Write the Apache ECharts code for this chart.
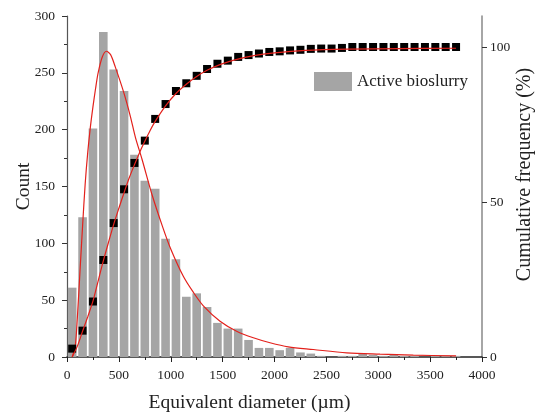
<!DOCTYPE html>
<html>
<head>
<meta charset="utf-8">
<script src="https://cdn.jsdelivr.net/npm/echarts@6/dist/echarts.min.js"></script>
<style>html,body{margin:0;padding:0;background:#fff;}#c{width:539px;height:414px;}</style>
</head>
<body>
<div id="c"></div>
<script>
// Bin centres (µm)
const binCenters = [50,150,250,350,450,550,650,750,850,950,1050,1150,1250,1350,1450,1550,1650,1750,1850,1950,2050,2150,2250,2350,2450,2550,2650,2750,2850,2950,3050,3150,3250,3350,3450,3550,3650,3750];
// Histogram counts
const counts = [61,123,201,286,253,234,178,155,148,104,86,53,56,44,30,25,25,15,8,8,6,8,4,3,1,0,1,1,3,2,1,2,1,1,0,1,1,1];
// Cumulative frequency (%)
const cumulative = [2.7,8.5,17.9,31.3,43.2,54.1,62.6,69.8,76.8,81.6,85.8,88.3,90.7,92.9,94.6,95.6,96.8,97.4,97.9,98.4,98.6,98.9,99.1,99.4,99.5,99.5,99.7,100,100,100,100,100,100,100,100,100,100,100];
// Fitted distribution curve
const pdfFitX = [50,80,100,125,150,175,200,225,250,275,300,340,380,420,466,546,610,660,723,819,916,1000,1121,1217,1314,1475,1635,1796,1957,2133,2374,2696,3017,3338,3750];
const pdfFitY = [0,10,35,75,115,152,180,202,220,236,250,264,269,266,255,233,212,193,174,143,116,95,71,57,45,31.5,22.7,16.9,12.5,8.9,6.6,3.7,2.5,1.6,1.0];
// Fitted cumulative curve
const cumFitX = [50,100,150,200,250,300,350,400,450,500,550,600,650,700,750,800,850,950,1050,1150,1250,1350,1450,1600,1800,2000,2300,2700,3200,3750];
const cumFitY = [0,3.5,8.3,13,18,24.5,31,37,42.8,48,53,57.8,62,66,69.6,73,76,81,85,88,90.5,92.5,94,95.7,97.2,98.1,98.9,99.3,99.5,99.6];
const xTicks = [0,500,1000,1500,2000,2500,3000,3500,4000];
const rightTicks = [0,50,100];
const seriesName = 'Active bioslurry';

const serif = 'Liberation Serif';
const zip = (a,b) => a.map((v,i)=>[v,b[i]]);
const chart = echarts.init(document.getElementById('c'), null, {renderer:'canvas'});
chart.setOption({
  animation:false,
  backgroundColor:'#fff',
  grid:{left:67,right:57,top:16,bottom:57,containLabel:false,outerBoundsMode:'none'},
  legend:{
    show:true, data:[{name:seriesName,icon:'rect'}], left:314, top:72, padding:0, itemWidth:38, itemHeight:19,
    textStyle:{fontFamily:serif,fontSize:17,color:'#222'}, selectedMode:false
  },
  xAxis:{
    type:'value', min:0, max:4000, interval:500,
    name:'Equivalent diameter (µm)', nameLocation:'middle', nameGap:36,
    nameTextStyle:{fontFamily:serif,fontSize:19.5,color:'#222',padding:[0,50,0,0]},
    axisLine:{show:true,onZero:false,lineStyle:{color:'#222',width:1.5}},
    axisTick:{show:true,inside:false,length:5,lineStyle:{color:'#222'}},
    minorTick:{show:true,splitNumber:2,length:3,lineStyle:{color:'#222'}},
    axisLabel:{fontFamily:serif,fontSize:13.5,color:'#222',margin:11,customValues:xTicks,formatter:v=>String(v)},
    splitLine:{show:false}
  },
  yAxis:[{
    type:'value', min:0, max:300, interval:50,
    name:'Count', nameLocation:'middle', nameGap:33, nameRotate:90, nameMoveOverlap:false,
    nameTextStyle:{fontFamily:serif,fontSize:19.5,color:'#222'},
    axisLine:{show:true,lineStyle:{color:'#555',width:1.2}},
    axisTick:{show:true,inside:false,length:5,lineStyle:{color:'#333'}},
    minorTick:{show:true,splitNumber:2,length:3,lineStyle:{color:'#333'}},
    axisLabel:{fontFamily:serif,fontSize:13.5,color:'#222',margin:12,formatter:v=>String(v)},
    splitLine:{show:false}
  },{
    type:'value', min:0, max:110, position:'right',
    name:'Cumulative frequency (%)', nameLocation:'middle', nameGap:33, nameRotate:90, nameMoveOverlap:false,
    nameTextStyle:{fontFamily:serif,fontSize:20,color:'#222',padding:[0,0,0,24]},
    axisLine:{show:true,lineStyle:{color:'#888',width:1.5}},
    axisTick:{show:true,inside:false,length:5,lineStyle:{color:'#333'},customValues:rightTicks},
    axisLabel:{fontFamily:serif,fontSize:13.5,color:'#222',margin:8,customValues:rightTicks,formatter:v=>String(v)},
    splitLine:{show:false}
  }],
  series:[
    {
      name:seriesName, type:'bar', xAxisIndex:0, yAxisIndex:0,
      data:zip(binCenters,counts), barWidth:8.6,
      itemStyle:{color:'#a5a5a5'}, silent:true
    },
    {
      type:'line', yAxisIndex:0, data:zip(pdfFitX,pdfFitY), smooth:0.3,
      showSymbol:false, lineStyle:{color:'#e3211c',width:1.2}, silent:true, z:5
    },
    {
      type:'scatter', yAxisIndex:1, data:zip(binCenters,cumulative),
      symbol:'rect', symbolSize:8, itemStyle:{color:'#000',opacity:1}, silent:true, z:6
    },
    {
      type:'line', yAxisIndex:1, data:zip(cumFitX,cumFitY), smooth:0.3,
      showSymbol:false, lineStyle:{color:'#e3211c',width:1.2}, silent:true, z:7
    }
  ]
});
</script>
</body>
</html>
